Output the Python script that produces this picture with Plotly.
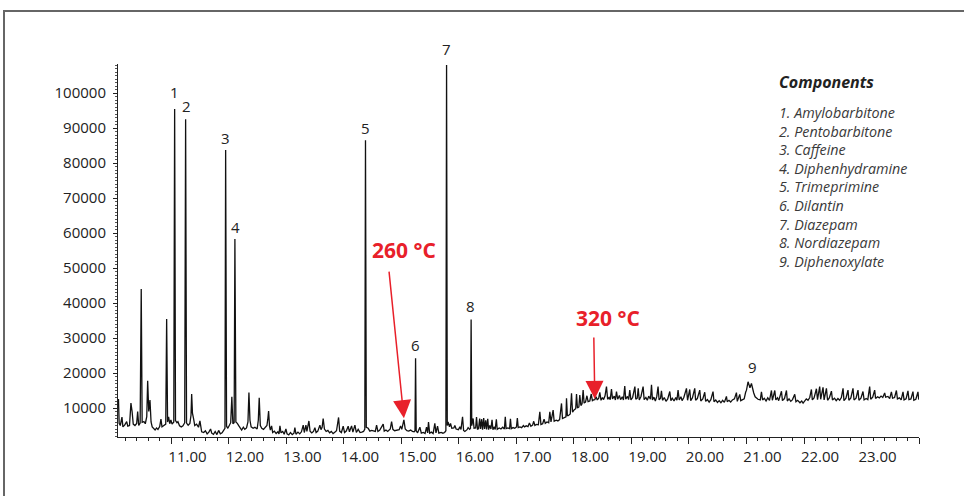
import plotly.graph_objects as go

# ---------------- data (retention time in min, abundance in counts) ----------------
seg_a = [(10.078, 12600), (10.090, 5600), (10.110, 5000), (10.139, 7400), (10.155, 4600), (10.185, 5100),
         (10.221, 6100), (10.240, 4800), (10.270, 5000), (10.295, 11400), (10.315, 9000), (10.335, 5400),
         (10.365, 5000), (10.395, 5600), (10.412, 9000), (10.430, 5000), (10.455, 5700), (10.474, 44000),
         (10.490, 5900), (10.521, 6100), (10.545, 5500), (10.570, 7500), (10.586, 17800), (10.605, 9000),
         (10.626, 12300), (10.645, 6000), (10.665, 4600), (10.690, 4000), (10.715, 3700), (10.740, 4300),
         (10.765, 3900), (10.795, 4700), (10.817, 6800), (10.835, 4600), (10.865, 5000), (10.900, 5400),
         (10.916, 35400), (10.932, 6000), (10.950, 7500), (10.970, 5500), (10.990, 6600), (11.010, 5400),
         (11.040, 6000), (11.055, 95400), (11.070, 6400), (11.095, 5800), (11.112, 6100), (11.140, 4900),
         (11.170, 4600), (11.200, 4900), (11.230, 5800), (11.246, 92500), (11.262, 5700), (11.290, 5100),
         (11.320, 5600), (11.340, 8000), (11.351, 14000), (11.365, 8500), (11.385, 6900), (11.405, 5000),
         (11.437, 5400), (11.470, 4500), (11.495, 6300), (11.525, 3200)]

seg_b = [(11.560, 3000), (11.590, 3500), (11.620, 2600), (11.650, 3100), (11.680, 4000), (11.700, 2800),
         (11.730, 2500), (11.760, 3300), (11.790, 2400), (11.820, 3600), (11.850, 2600), (11.880, 2900),
         (11.910, 3700), (11.930, 4200), (11.942, 83700), (11.958, 4800), (11.980, 4200), (12.004, 5000),
         (12.030, 5800), (12.050, 13200), (12.068, 5500), (12.090, 5800), (12.103, 58300), (12.120, 6000),
         (12.145, 5600), (12.175, 4800), (12.220, 3700), (12.250, 4500), (12.275, 3900), (12.305, 4300),
         (12.330, 6000), (12.347, 14400), (12.365, 6500), (12.385, 4600), (12.420, 4200), (12.451, 4500),
         (12.490, 4000), (12.510, 6500), (12.526, 12900), (12.545, 5000), (12.570, 4200), (12.600, 3900),
         (12.630, 4500), (12.660, 5000), (12.675, 6800), (12.689, 9100), (12.705, 4800), (12.720, 3700)]

seg_c = [(12.741, 4900), (12.760, 3000), (12.790, 3400), (12.820, 2700), (12.850, 3200), (12.870, 2600),
         (12.886, 4900), (12.905, 2900), (12.935, 3300), (12.960, 2500), (12.990, 4000), (13.010, 2600),
         (13.040, 2300), (13.070, 3000), (13.100, 2400), (13.130, 2800), (13.146, 4400), (13.165, 2500),
         (13.200, 3100), (13.230, 2600), (13.260, 3200), (13.291, 5100), (13.310, 3000), (13.338, 5100),
         (13.355, 3300), (13.390, 6300), (13.410, 3400), (13.440, 2900), (13.470, 3300), (13.494, 4400),
         (13.515, 3000), (13.545, 3400), (13.581, 5100), (13.600, 3800), (13.620, 4500), (13.638, 7000),
         (13.660, 4000), (13.690, 3300), (13.720, 3600), (13.750, 2900), (13.780, 3300), (13.810, 2700),
         (13.840, 3100), (13.870, 3500), (13.906, 7300), (13.925, 3400), (13.955, 3000), (13.986, 4800),
         (14.010, 3000), (14.040, 3400), (14.073, 4800), (14.095, 3200), (14.132, 4900), (14.155, 3100),
         (14.190, 5100), (14.215, 3000), (14.247, 3900), (14.280, 3000), (14.310, 3100), (14.340, 3300)]

seg_d = [(14.362, 4000), (14.374, 86500), (14.388, 4500), (14.421, 4200), (14.450, 3400), (14.480, 3600),
         (14.545, 3300), (14.567, 5100), (14.590, 3300), (14.620, 3600), (14.682, 5400), (14.700, 3400),
         (14.730, 3700), (14.760, 3300), (14.805, 4000), (14.828, 6100), (14.850, 3900), (14.880, 3500),
         (14.960, 3800), (14.984, 4900), (15.005, 3900), (15.042, 6600), (15.065, 4000), (15.095, 3500),
         (15.125, 3400), (15.160, 3700), (15.190, 3300), (15.220, 3200), (15.235, 3500), (15.245, 24200),
         (15.256, 3500), (15.280, 2900), (15.320, 4500), (15.345, 2800), (15.380, 3000), (15.410, 2700),
         (15.436, 4500), (15.455, 2900), (15.470, 6000), (15.490, 2800), (15.520, 3100), (15.550, 2700),
         (15.580, 5600), (15.600, 2900), (15.627, 4800), (15.650, 2800), (15.690, 3000), (15.720, 2800),
         (15.750, 3000), (15.772, 3500), (15.784, 108000), (15.796, 5000), (15.810, 6000), (15.835, 4600),
         (15.853, 5600), (15.875, 4200), (15.910, 4300), (15.928, 5000), (15.950, 4000), (15.990, 3800),
         (16.015, 4600), (16.035, 3900), (16.062, 7500), (16.080, 3600), (16.102, 3300), (16.140, 3800),
         (16.159, 4400), (16.185, 3900), (16.200, 4200), (16.211, 35300), (16.222, 5000), (16.246, 7000),
         (16.262, 4200), (16.290, 4300), (16.305, 7400), (16.322, 4000)]

seg_e = [(16.340, 4100), (16.360, 7000), (16.375, 4000), (16.395, 6800), (16.410, 3800), (16.430, 7100),
         (16.445, 4000), (16.465, 6500), (16.480, 3900), (16.500, 6900), (16.515, 3800), (16.535, 5000),
         (16.555, 4000), (16.575, 6600), (16.590, 3800), (16.610, 4600), (16.630, 3900), (16.650, 6800),
         (16.665, 3900), (16.700, 4300), (16.730, 4000), (16.760, 4500), (16.790, 4000), (16.805, 7500),
         (16.820, 4100), (16.850, 4300), (16.880, 4100), (16.895, 6900), (16.910, 4100), (16.940, 4400),
         (16.970, 4200), (17.000, 4600), (17.015, 7100), (17.030, 4400), (17.060, 4600), (17.090, 4400),
         (17.120, 5000), (17.140, 4600), (17.170, 4900), (17.200, 4700), (17.225, 5700), (17.250, 4800),
         (17.280, 5100), (17.300, 6200), (17.320, 5000), (17.345, 5300), (17.380, 5200), (17.406, 8900),
         (17.425, 5300), (17.455, 5500), (17.480, 6800), (17.500, 5600), (17.530, 6000), (17.560, 5800),
         (17.580, 8900), (17.600, 6000), (17.637, 9400), (17.655, 6200), (17.690, 6500), (17.720, 6300),
         (17.750, 6700), (17.783, 11300), (17.800, 7000), (17.830, 7300), (17.860, 7500), (17.870, 12800),
         (17.885, 7800), (17.900, 7800), (17.935, 8300), (17.957, 14200), (17.975, 8800), (18.005, 9500),
         (18.030, 9800), (18.044, 14000), (18.060, 10000), (18.085, 10300), (18.101, 13700), (18.120, 10700),
         (18.140, 11200), (18.159, 15100), (18.176, 11400), (18.200, 11700), (18.225, 13500), (18.245, 11800),
         (18.275, 12000), (18.300, 14000), (18.320, 12100), (18.340, 12300), (18.362, 12400), (18.385, 13200)]

seg_f = [(18.405, 12300), (18.430, 12800), (18.449, 14500), (18.470, 12200), (18.495, 13000), (18.515, 12400),
         (18.540, 13500), (18.565, 16100), (18.585, 12500), (18.610, 13000), (18.630, 12400), (18.652, 15400),
         (18.670, 12600), (18.700, 13400), (18.720, 12300), (18.739, 14700), (18.760, 12500), (18.790, 13600),
         (18.810, 12400), (18.840, 13200), (18.860, 12300), (18.883, 16300), (18.900, 12500), (18.930, 13300),
         (18.950, 12400), (18.970, 15100), (18.990, 12300), (19.020, 13000), (19.059, 16100), (19.075, 12500),
         (19.100, 12800), (19.117, 15600), (19.135, 12300), (19.165, 13300), (19.202, 16100), (19.220, 12400),
         (19.250, 13000), (19.275, 12200), (19.300, 13400), (19.330, 12500), (19.348, 16600), (19.365, 12300),
         (19.390, 13100), (19.415, 12000), (19.440, 13300), (19.462, 16100), (19.480, 12300), (19.505, 12800),
         (19.521, 14900), (19.540, 12200), (19.570, 13000), (19.600, 11900), (19.630, 12600), (19.666, 14700),
         (19.685, 12100), (19.710, 12800), (19.740, 12000), (19.770, 13000), (19.790, 12200), (19.810, 15100),
         (19.830, 12300), (19.860, 13200), (19.880, 12100), (19.910, 13000), (19.956, 15600), (19.975, 12200),
         (20.013, 15300), (20.030, 12100), (20.060, 12900), (20.100, 15600), (20.115, 12200), (20.145, 12700),
         (20.187, 15100), (20.205, 12000), (20.240, 12600), (20.274, 14500), (20.290, 11900), (20.320, 12400),
         (20.350, 11700), (20.380, 12400), (20.418, 14700), (20.435, 11800), (20.465, 12300), (20.495, 11600),
         (20.525, 12100), (20.555, 11500), (20.585, 12200), (20.615, 11600), (20.651, 13300), (20.665, 11800),
         (20.695, 12200), (20.725, 11700), (20.755, 12300), (20.790, 12600), (20.825, 14400), (20.840, 11900),
         (20.883, 13900), (20.900, 12100), (20.930, 12300), (20.960, 12600)]

seg_g = [(20.985, 14500), (21.000, 15100), (21.027, 17500), (21.045, 16600), (21.060, 15800), (21.086, 17000),
         (21.105, 15200), (21.126, 14300), (21.150, 13200), (21.173, 12800), (21.200, 12500), (21.240, 12300),
         (21.260, 14600), (21.280, 12300), (21.310, 12800), (21.340, 12000), (21.370, 12900), (21.400, 12200),
         (21.434, 15000), (21.450, 12200), (21.492, 15000), (21.510, 12300), (21.540, 12900), (21.560, 12100),
         (21.608, 14800), (21.625, 12100), (21.660, 12700), (21.695, 15000), (21.710, 12000), (21.740, 12600),
         (21.770, 11900), (21.800, 12400), (21.839, 13900), (21.860, 11800), (21.890, 12200), (21.930, 11500),
         (21.960, 12000), (21.984, 11400), (22.010, 12100), (22.040, 12600), (22.070, 12200), (22.100, 13000),
         (22.129, 15300), (22.145, 12300), (22.175, 12900), (22.216, 15500), (22.235, 12400), (22.273, 16100),
         (22.290, 12500), (22.331, 15900), (22.350, 12300), (22.390, 15600), (22.410, 12200), (22.440, 12900),
         (22.477, 14800), (22.495, 12300), (22.530, 12800), (22.560, 12100), (22.590, 12700), (22.620, 12200),
         (22.650, 13000), (22.679, 15600), (22.695, 12100), (22.730, 12800), (22.765, 15100), (22.780, 12200),
         (22.815, 12900), (22.852, 15600), (22.870, 12300), (22.905, 12800), (22.939, 15100), (22.955, 12200),
         (22.990, 12800), (23.026, 14700), (23.045, 12300), (23.080, 12700), (23.110, 12400), (23.142, 16100),
         (23.160, 12500), (23.195, 13100), (23.229, 15100), (23.245, 12700), (23.280, 13200), (23.310, 12900),
         (23.340, 13400), (23.370, 13000), (23.403, 14300), (23.420, 13100), (23.460, 13300), (23.490, 12700),
         (23.520, 14600), (23.540, 12800), (23.575, 13000), (23.607, 15000), (23.625, 12600), (23.660, 12900),
         (23.690, 12300), (23.722, 14600), (23.740, 12300), (23.775, 12600), (23.808, 14900), (23.825, 12400),
         (23.860, 12600), (23.895, 14700), (23.910, 12200), (23.945, 12500), (23.982, 14600), (23.995, 12400)]

peak_labels = ["1", "2", "3", "4", "5", "6", "7", "8", "9"]
peak_times = [11.055, 11.246, 11.942, 12.103, 14.374, 15.245, 15.784, 16.211, 21.027]
peak_heights = [95400, 92500, 83700, 58300, 86500, 24200, 108000, 35300, 17500]

components = ["1. Amylobarbitone", "2. Pentobarbitone", "3. Caffeine", "4. Diphenhydramine",
              "5. Trimeprimine", "6. Dilantin", "7. Diazepam", "8. Nordiazepam", "9. Diphenoxylate"]

x_tick_vals = [11, 12, 13, 14, 15, 16, 17, 18, 19, 20, 21, 22, 23, 24]
x_tick_text = ["11.00", "12.00", "13.00", "14.00", "15.00", "16.00", "17.00", "18.00",
               "19.00", "20.00", "21.00", "22.00", "23.00", ""]
y_tick_vals = [10000, 20000, 30000, 40000, 50000, 60000, 70000, 80000, 90000, 100000]

temp_marks = [("260 °C", 15.042, 7100), ("320 °C", 18.362, 12600)]

# ---------------- figure ----------------
segments = [seg_a, seg_b, seg_c, seg_d, seg_e, seg_f, seg_g]
times = [p[0] for s in segments for p in s]
counts = [p[1] for s in segments for p in s]

W, H = 964, 496
ML, MR, MT, MB = 118, 45, 64, 59
PW, PH = W - ML - MR, H - MT - MB


def px(xp):
    return (xp - ML) / PW


def py(yp):
    return (H - MB - yp) / PH


FONT = "Open Sans, Liberation Sans, sans-serif"
RED = "#e8202a"
TXT = "#222222"

fig = go.Figure()
fig.add_trace(go.Scatter(x=times, y=counts, mode="lines",
                         line=dict(color="#111111", width=1.3), hoverinfo="x+y"))

annotations = []
label_shift = [5, 1, 0, 0, 0, 1, 4, 1, 3]
label_xshift = [0, 1, 0, 1, 0, 0, 0, -1, 4]
for lab, t, h, ys, xs in zip(peak_labels, peak_times, peak_heights, label_shift, label_xshift):
    annotations.append(dict(x=t, y=h, xref="x", yref="y", text=lab, showarrow=False,
                            yanchor="bottom", xanchor="center", yshift=ys, xshift=xs,
                            font=dict(family=FONT, size=15, color=TXT)))

# temperature arrows
arrow_geom = [(-15, -148, 55100, 0), (-1, -63, 35700, 13)]
for (txt, t, v), (axp, ayp, ytxt, txs) in zip(temp_marks, arrow_geom):
    annotations.append(dict(x=t, y=v, xref="x", yref="y", ax=axp, ay=ayp, text="",
                            showarrow=True, arrowhead=2, arrowsize=2.4, arrowwidth=1.5,
                            arrowcolor=RED, standoff=0))
    annotations.append(dict(x=t, y=ytxt, xref="x", yref="y", text=f"<b>{txt}</b>", showarrow=False,
                            xanchor="center", yanchor="middle", xshift=txs,
                            font=dict(family=FONT, size=21, color=RED)))

# components legend
annotations.append(dict(x=px(777), y=py(82), xref="paper", yref="paper", text="<b><i>Components</i></b>",
                        showarrow=False, xanchor="left", yanchor="middle",
                        font=dict(family=FONT, size=16, color="#222222")))
annotations.append(dict(x=px(777), y=py(187), xref="paper", yref="paper",
                        text="<br>".join(f"<i>{c}</i>" for c in components), showarrow=False,
                        xanchor="left", yanchor="middle", align="left",
                        font=dict(family=FONT, size=14.3, color="#3a3a3a")))

fig.update_layout(
    width=W, height=H,
    margin=dict(l=ML, r=MR, t=MT, b=MB),
    paper_bgcolor="white", plot_bgcolor="white",
    showlegend=False,
    annotations=annotations,
    shapes=[dict(type="rect", xref="paper", yref="paper",
                 x0=px(4), x1=px(975), y0=py(505), y1=py(11),
                 line=dict(color="#666666", width=2), fillcolor="rgba(0,0,0,0)", layer="below")],
    xaxis=dict(range=[10.07, 24.0], showgrid=False, zeroline=False, showline=True,
               linecolor="#222222", linewidth=1, ticks="outside", ticklen=6, tickwidth=1,
               tickcolor="#222222", tickvals=x_tick_vals, ticktext=x_tick_text,
               ticklabelshift=16, tickfont=dict(family=FONT, size=15, color=TXT),
               minor=dict(dtick=0.2, tick0=10, ticks="outside", ticklen=3, tickcolor="#222222")),
    yaxis=dict(range=[1714, 108286], showgrid=False, zeroline=False, showline=True,
               linecolor="#222222", linewidth=1, ticks="outside", ticklen=4, tickwidth=1,
               tickcolor="#222222", tickvals=y_tick_vals, tickformat="d", ticklabelstandoff=4,
               tickfont=dict(family=FONT, size=15, color=TXT),
               minor=dict(dtick=1000, tick0=0, ticks="outside", ticklen=2, tickcolor="#555555")),
)

fig.write_html("out.html", config={"displayModeBar": False},
               post_script="document.body.style.margin='0px';")
